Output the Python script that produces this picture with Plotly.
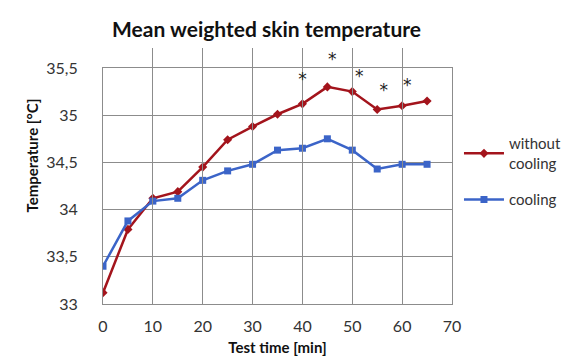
import plotly.graph_objects as go

time_min = [0, 5, 10, 15, 20, 25, 30, 35, 40, 45, 50, 55, 60, 65]
without_cooling = [33.12, 33.79, 34.12, 34.19, 34.45, 34.74, 34.88, 35.01, 35.12, 35.30, 35.25, 35.06, 35.10, 35.15]
cooling = [33.40, 33.88, 34.09, 34.12, 34.31, 34.41, 34.48, 34.63, 34.65, 34.75, 34.63, 34.43, 34.48, 34.48]
star_x = [40, 46, 51.4, 56.3, 61]
star_y = [35.36, 35.58, 35.40, 35.25, 35.30]
y_tickvals = [33, 33.5, 34, 34.5, 35, 35.5]
y_ticktext = ["33", "33,5", "34", "34,5", "35", "35,5"]
x_tickvals = [0, 10, 20, 30, 40, 50, 60, 70]

RED = "#A3141C"
BLUE = "#3B64C8"
FONT = "Lato"

# plot frame: 236 px tall for the 33..35.5 range; extra 20 px headroom above for the stars
FRAME_H = 236
TOTAL_H = 256
Y_MIN, Y_MAX = 33, 35.5
Y2_MAX = Y_MIN + (Y_MAX - Y_MIN) * TOTAL_H / FRAME_H

fig = go.Figure()
fig.add_trace(go.Scatter(
    x=time_min, y=without_cooling, mode="lines+markers",
    name="without<br>cooling", legendgroup="a",
    line=dict(color=RED, width=2.5),
    marker=dict(symbol="diamond", size=7, color=RED),
))
fig.add_trace(go.Scatter(
    x=time_min, y=cooling, mode="lines+markers",
    name="cooling", legendgroup="b",
    line=dict(color=BLUE, width=2.5),
    marker=dict(symbol="square", size=7, color=BLUE),
))
fig.add_trace(go.Scatter(
    x=star_x, y=star_y, mode="text", text=["*"] * len(star_x),
    textfont=dict(size=17, color="#222222", family="DejaVu Sans"),
    textposition="middle center", yaxis="y2",
    showlegend=False, hoverinfo="skip",
))

fig.update_layout(
    width=572, height=358,
    margin=dict(l=95, r=128, t=40, b=62),
    paper_bgcolor="white", plot_bgcolor="rgba(0,0,0,0)",
    font=dict(family=FONT, size=13, color="#333333"),
    title=dict(text="<b>Mean weighted skin temperature</b>",
               x=0.452, xanchor="center", y=0.94, yanchor="middle",
               font=dict(size=21, color="#111111", family=FONT)),
    showlegend=True,
    legend=dict(x=1.02, y=0.69, xanchor="left", yanchor="top",
                font=dict(size=15, color="#333333", family=FONT),
                tracegroupgap=14, itemwidth=40, bgcolor="rgba(0,0,0,0)"),
    annotations=[dict(text="<b>Temperature [°C]</b>", textangle=-90,
                      xref="paper", yref="paper", x=-0.235, y=0.58,
                      showarrow=False, font=dict(size=15, color="#111111", family=FONT))],
    yaxis2=dict(domain=[0, 1], range=[Y_MIN, Y2_MAX], anchor="x",
                visible=False, showgrid=False, zeroline=False),
)
fig.update_xaxes(
    range=[0, 70], tickvals=x_tickvals, automargin=False,
    showgrid=True, gridcolor="#8C8C8C", gridwidth=1,
    showline=True, linecolor="#8C8C8C", mirror=True,
    zeroline=False, ticks="", ticklabelstandoff=8,
    tickfont=dict(size=16, color="#333333"),
    title=dict(text="<b>Test time [min]</b>", font=dict(size=15, color="#111111"), standoff=8),
)
fig.update_layout(yaxis=dict(
    domain=[0, FRAME_H / TOTAL_H],
    range=[Y_MIN, Y_MAX], tickvals=y_tickvals, ticktext=y_ticktext, automargin=False,
    showgrid=True, gridcolor="#8C8C8C", gridwidth=1,
    showline=True, linecolor="#8C8C8C", mirror=True,
    zeroline=False, ticks="", ticklabelstandoff=21,
    tickfont=dict(size=16, color="#333333"),
))

fig.write_html("out.html")
